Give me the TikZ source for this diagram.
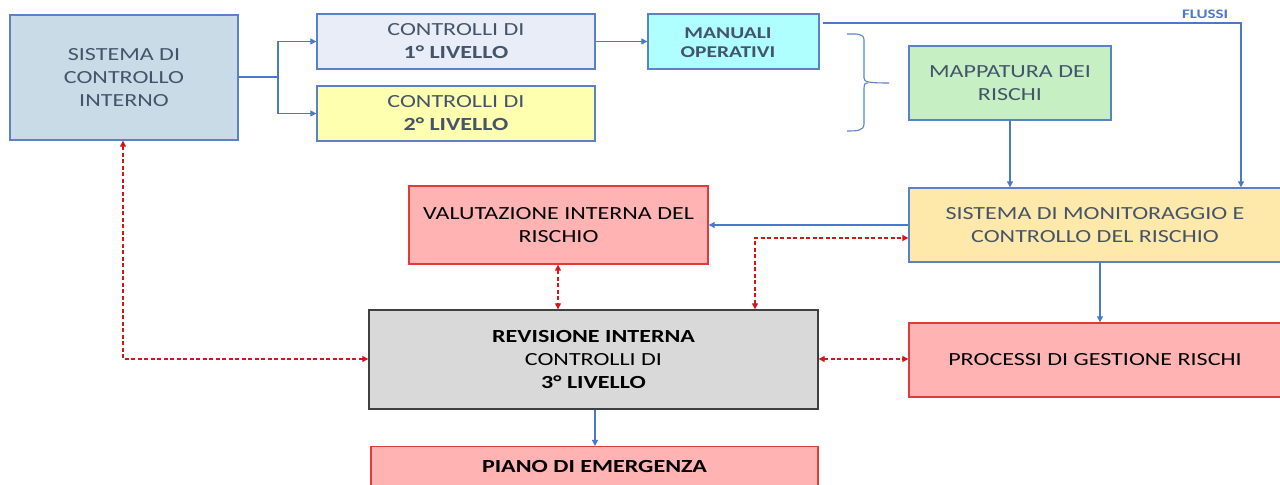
\documentclass[tikz,border=0pt]{standalone}
\usepackage{fontspec}
\setmainfont[FakeStretch=1.3]{Carlito}
\usetikzlibrary{arrows.meta}
\definecolor{lblue}{HTML}{4A78CC}
\definecolor{bordblue}{HTML}{5B82C6}
\definecolor{txtgray}{HTML}{44546A}
\definecolor{dred}{HTML}{D01818}
\definecolor{bred}{HTML}{E03A3A}
\definecolor{fsci}{HTML}{CADBE8}
\definecolor{fcone}{HTML}{E9EDF7}
\definecolor{fctwo}{HTML}{FFFFB0}
\definecolor{fman}{HTML}{AFFFFF}
\definecolor{fmap}{HTML}{C6EFC4}
\definecolor{fsmc}{HTML}{FFE9AA}
\definecolor{fred}{HTML}{FFB3B3}
\definecolor{fgray}{HTML}{D9D9D9}
\tikzset{
  box/.style={draw=bordblue, line width=1.3bp, rectangle, inner sep=0pt, align=center,
    text=txtgray, font=\fontsize{18.5bp}{23bp}\selectfont},
  redbox/.style={box, draw=bred, fill=fred, text=black},
  flow/.style={draw=lblue, line width=1.1bp, -{Triangle[length=6bp,width=6bp]}},
  plain/.style={draw=lblue, line width=1.1bp},
  rdash/.style={draw=dred, line width=1.1bp, dash pattern=on 4bp off 2.5bp,
    {Triangle[length=6bp,width=6bp]}-{Triangle[length=6bp,width=6bp]}},
}
\begin{document}
\begin{tikzpicture}[x=1bp,y=-1bp]
\useasboundingbox (0,0) rectangle (1280,485);
\clip (0,0) rectangle (1280,485);
% boxes
\node[box, fill=fsci, minimum width=228bp, minimum height=125bp] (sci) at (124,77.5) {SISTEMA DI\\CONTROLLO\\INTERNO};
\node[box, fill=fcone, minimum width=278bp, minimum height=55bp] (cone) at (456,41.5) {CONTROLLI DI\\\textbf{1° LIVELLO}};
\node[box, fill=fctwo, minimum width=278bp, minimum height=55bp] (ctwo) at (456,113.5) {CONTROLLI DI\\\textbf{2° LIVELLO}};
\node[box, fill=fman, minimum width=171bp, minimum height=55bp] (man) at (733.5,41.5) {};
\node[font=\fontsize{16.5bp}{19.5bp}\selectfont\bfseries, text=txtgray, align=center, inner sep=0pt] (mant) at (728,42.5) {MANUALI\\OPERATIVI};
\node[box, fill=fmap, minimum width=202bp, minimum height=74bp] (map) at (1010,83) {MAPPATURA DEI\\RISCHI};
\node[box, fill=fsmc, minimum width=372bp, minimum height=74bp] (smc) at (1095,225) {SISTEMA DI MONITORAGGIO E\\CONTROLLO DEL RISCHIO};
\node[redbox, minimum width=299bp, minimum height=78bp] (vir) at (558.5,225) {VALUTAZIONE INTERNA DEL\\RISCHIO};
\node[box, draw=black!75, fill=fgray, text=black, minimum width=449bp, minimum height=99bp] (ri) at (593.5,359.5) {\textbf{REVISIONE INTERNA}\\CONTROLLI DI\\\textbf{3° LIVELLO}};
\node[redbox, minimum width=372bp, minimum height=74bp] (pgr) at (1095,360) {PROCESSI DI GESTIONE RISCHI};
\node[redbox, minimum width=447bp, minimum height=60bp, anchor=north] (pe) at (594.5,446) {};
\node[font=\fontsize{18.5bp}{23bp}\selectfont\bfseries, text=black] (pet) at (594.5,466) {PIANO DI EMERGENZA};
\node[font=\fontsize{13bp}{15bp}\selectfont\bfseries, text=lblue] (fl) at (1205,14) {FLUSSI};
% blue connectors
\coordinate (j) at (278,77);
\draw[plain] (sci.east |- j) -- (j);
\draw[flow] (j) |- (cone.west);
\draw[flow] (j) |- (ctwo.west);
\draw[flow] (cone.east) -- (man.west);
\coordinate (fc) at (1241,23);
\draw[flow] (man.north east |- fc) ++(3,0) -- (fc) -- (fc |- smc.north);
\draw[flow] (map.south) -- (map.south |- smc.north);
\draw[flow] (smc.west |- 0,225) -- (vir.east |- 0,225);
\draw[flow] (smc.south -| 1100,0) -- (pgr.north -| 1100,0);
\draw[flow] (ri.south -| 595,0) -- (pe.north -| 595,0);
% brace
\draw[draw=bordblue, line width=1.1bp] (847,34) .. controls (856,34) and (864,33) .. (864,40) -- (864,78) .. controls (864,82) and (868,83) .. (889,83);
\draw[draw=bordblue, line width=1.1bp] (868,83) .. controls (864,83) and (864,85) .. (864,88) -- (864,124) .. controls (864,131) and (856,131) .. (847,131);
% red dashed connectors
\draw[rdash] (sci.south -| 123,0) -- (123,359) -- (ri.west |- 0,359);
\draw[rdash] (vir.south -| 558,0) -- (ri.north -| 558,0);
\coordinate (rk) at (755,238);
\draw[rdash] (ri.north -| rk) -- (rk) -- (smc.west |- rk);
\draw[rdash] (ri.east |- 0,359) -- (pgr.west |- 0,359);
\end{tikzpicture}
\end{document}
